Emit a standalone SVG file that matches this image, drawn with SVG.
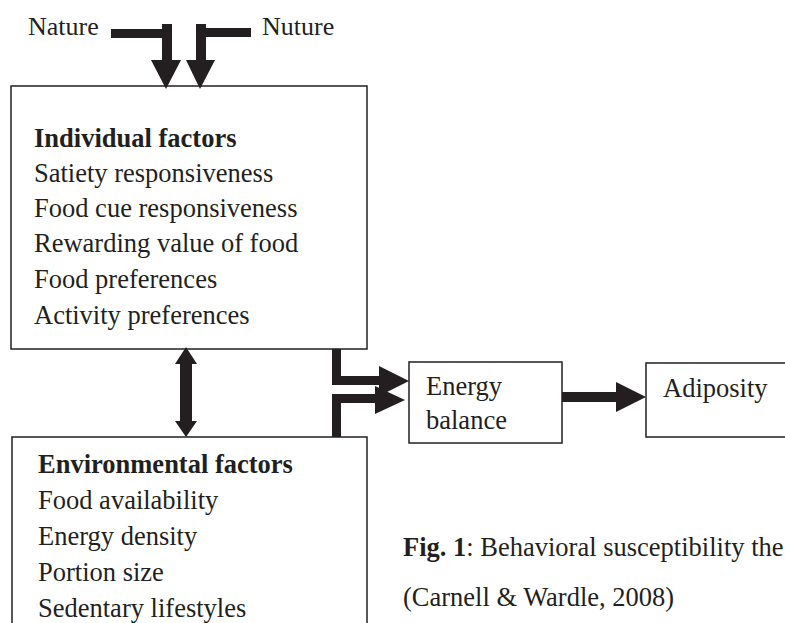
<svg xmlns="http://www.w3.org/2000/svg" width="785" height="623" viewBox="0 0 785 623">
<style>
.box{fill:#fff;stroke:#231f20;stroke-width:1.5}
.t{font-family:"Liberation Serif","Times New Roman",serif;font-size:26.5px;fill:#231f20}
.s{font-size:26px}
.b{font-weight:bold}
.c{fill:#231f20;stroke:none}
</style>
<rect width="785" height="623" fill="#fff"/>
<g id="nature"><text class="t s" x="28" y="35">Nature</text></g>
<g id="nuture"><text class="t s" x="262" y="35">Nuture</text></g>
<g id="individual">
<rect class="box" x="11" y="86" width="356" height="263"/>
<text class="t b" x="34" y="147">Individual factors</text>
<text class="t" x="34" y="182">Satiety responsiveness</text>
<text class="t" x="34" y="217">Food cue responsiveness</text>
<text class="t" x="34" y="252">Rewarding value of food</text>
<text class="t" x="34" y="288">Food preferences</text>
<text class="t" x="34" y="324">Activity preferences</text>
</g>
<g id="environmental">
<rect class="box" x="12" y="437" width="355" height="200"/>
<text class="t b" x="38" y="473">Environmental factors</text>
<text class="t" x="38" y="509">Food availability</text>
<text class="t" x="38" y="545">Energy density</text>
<text class="t" x="38" y="581">Portion size</text>
<text class="t" x="38" y="617">Sedentary lifestyles</text>
</g>
<g id="energy">
<rect class="box" x="409" y="362" width="153" height="81"/>
<text class="t" x="426" y="395">Energy</text>
<text class="t" x="426" y="429">balance</text>
</g>
<g id="adiposity">
<rect class="box" x="646" y="363" width="160" height="74"/>
<text class="t" x="663" y="397">Adiposity</text>
</g>
<g id="caption">
<text class="t" x="403" y="556"><tspan class="b">Fig. 1</tspan>: Behavioral susceptibility the</text>
<text class="t" x="403" y="606">(Carnell &amp; Wardle, 2008)</text>
</g>
<g id="connectors">
<rect class="c" x="111" y="29" width="61" height="9"/>
<rect class="c" x="162" y="24" width="10" height="37"/>
<polygon class="c" points="151,60 181,60 166,89"/>
<rect class="c" x="196" y="28" width="55" height="9"/>
<rect class="c" x="196" y="24" width="10" height="37"/>
<polygon class="c" points="186,60 215,60 200,89"/>
<rect class="c" x="180" y="362" width="12" height="61"/>
<polygon class="c" points="175,364 197,364 186,347"/>
<polygon class="c" points="175,421 197,421 186,437"/>
<rect class="c" x="332" y="349" width="9" height="36"/>
<rect class="c" x="332" y="376" width="49" height="9"/>
<polygon class="c" points="379,366 379,396 409,381"/>
<rect class="c" x="332" y="394" width="9" height="43"/>
<rect class="c" x="332" y="394" width="45" height="9"/>
<polygon class="c" points="375,386 375,414 405,400"/>
<rect class="c" x="562" y="392" width="56" height="10"/>
<polygon class="c" points="616,382 616,412 646,397"/>
</g>
</svg>
